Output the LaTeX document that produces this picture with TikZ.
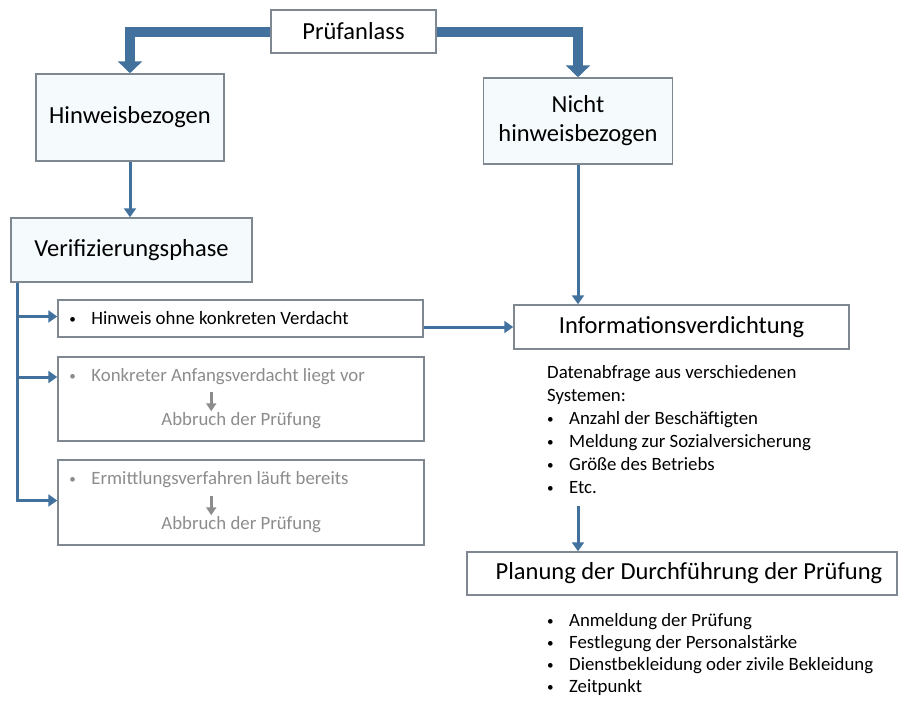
\documentclass[tikz,border=0pt]{standalone}
\usepackage{fontspec}
\setmainfont{Carlito}
\usetikzlibrary{arrows.meta,calc}
\definecolor{pfeilblau}{HTML}{41719C}
\definecolor{rahmen}{HTML}{7F8891}
\definecolor{hellblau}{HTML}{F5FAFD}
\definecolor{textgrau}{HTML}{8C8C8C}
\newcommand{\schriftgross}{\fontsize{24.5}{29}\selectfont}
\newcommand{\schriftklein}{\fontsize{18.8}{23}\selectfont}
\newcommand{\punkt}{\makebox[22pt][l]{\raisebox{1pt}{\scalebox{0.7}{\textbullet}}}}

\begin{document}
\begin{tikzpicture}[x=1pt, y=-1pt,
    kasten/.style={draw=rahmen, fill=white, line width=1.5pt, inner sep=0pt,
                   align=center, font=\schriftgross},
    blaukasten/.style={kasten, fill=hellblau},
    listkasten/.style={kasten, font=\schriftklein},
    liste/.style={inner sep=0pt, align=left, font=\schriftklein},
    dickpfeil/.style={draw=pfeilblau, line width=10pt,
                      -{Triangle[width=24pt,length=12pt]}},
    duennpfeil/.style={draw=pfeilblau, line width=3pt,
                       -{Triangle[width=12pt,length=9pt]}},
    grauerpfeil/.style={draw=textgrau, line width=2.5pt,
                        -{Triangle[width=10pt,length=8pt]}},
]
\useasboundingbox (0,0) rectangle (908,702);

% Obere Ebene
\node[kasten, minimum width=165, minimum height=43] (pruef) at (353.5,31.5) {Prüfanlass};
\node[blaukasten, minimum width=188, minimum height=87] (hinweis) at (130,117.5) {Hinweisbezogen};
\node[blaukasten, minimum width=189, minimum height=86] (nicht) at (578,121) {Nicht\\hinweisbezogen};
\node[blaukasten, minimum width=241, minimum height=64] (verif) at (131.5,250) {Verifizierungsphase};

% Verifizierung
\node[listkasten, minimum width=365, minimum height=37] (ohne) at (240.5,318.5) {};
\node[liste, anchor=west] (ohneA) at ($(ohne.west)+(12,0)$)
    {\punkt Hinweis ohne konkreten Verdacht};

\node[listkasten, minimum width=366, minimum height=84] (konkret) at (241,399) {};
\node[liste, anchor=west, text=textgrau] (konkretA) at ($(konkret.north west)+(12,20)$)
    {\punkt Konkreter Anfangsverdacht liegt vor};
\node[liste, text=textgrau] (konkretB) at ($(konkret.north west)+(184,64)$) {Abbruch der Prüfung};
\coordinate (konkretO) at ($(konkret.north west)+(154,36)$);
\coordinate (konkretU) at ($(konkret.north west)+(154,55)$);
\draw[grauerpfeil] (konkretO) -- (konkretU);

\node[listkasten, minimum width=366, minimum height=85] (ermittl) at (241,502.5) {};
\node[liste, anchor=west, text=textgrau] (ermittlA) at ($(ermittl.north west)+(12,20)$)
    {\punkt Ermittlungsverfahren läuft bereits};
\node[liste, text=textgrau] (ermittlB) at ($(ermittl.north west)+(184,65)$) {Abbruch der Prüfung};
\coordinate (ermittlO) at ($(ermittl.north west)+(154,37)$);
\coordinate (ermittlU) at ($(ermittl.north west)+(154,56)$);
\draw[grauerpfeil] (ermittlO) -- (ermittlU);

% Rechte Seite
\node[kasten, minimum width=335, minimum height=44] (info) at (681.5,327) {Informationsverdichtung};
\node[liste, anchor=north west] (daten) at (547,365) {%
    Datenabfrage aus verschiedenen\\
    Systemen:\\
    \punkt Anzahl der Beschäftigten\\
    \punkt Meldung zur Sozialversicherung\\
    \punkt Größe des Betriebs\\
    \punkt Etc.};
\node[kasten, minimum width=430, minimum height=43] (planung) at (682,573.5)
    {\hspace*{14pt}Planung der Durchführung der Prüfung};
\node[liste, anchor=north west, font=\fontsize{18.8}{22}\selectfont] (massn) at (547,613) {%
    \punkt Anmeldung der Prüfung\\
    \punkt Festlegung der Personalstärke\\
    \punkt Dienstbekleidung oder zivile Bekleidung\\
    \punkt Zeitpunkt};

% Verbindungen
\draw[dickpfeil] (pruef.west) -| (hinweis.north);
\draw[dickpfeil] (pruef.east) -| (nicht.north);
\draw[duennpfeil] (hinweis.south) -- (hinweis.south |- verif.north);
\draw[duennpfeil] (nicht.south) -- (nicht.south |- info.north);

\coordinate (stamm) at ($(verif.south west)+(7,0)$);
\draw[duennpfeil] (stamm) |- ([yshift=2pt]ohne.west);
\draw[duennpfeil] (stamm) |- ([yshift=22pt]konkret.west);
\draw[duennpfeil] (stamm) |- ([yshift=2pt]ermittl.west);

\draw[duennpfeil] (ohne.east |- info.west) -- (info.west);
\coordinate (datenende) at ($(daten.south -| nicht.south)+(0,12)$);
\draw[duennpfeil] (datenende) -- (datenende |- planung.north);

\end{tikzpicture}
\end{document}
